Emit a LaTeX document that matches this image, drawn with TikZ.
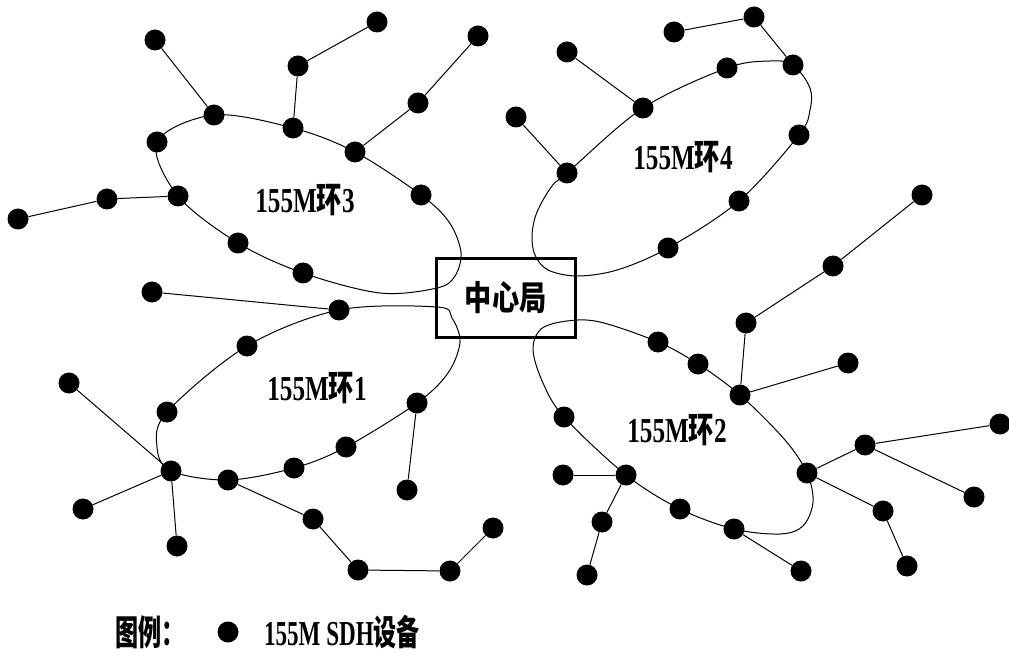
\documentclass[tikz,border=0pt]{standalone}
\usepackage{fontspec}
\usepackage{graphicx}
\setmainfont{Liberation Serif}
\newfontfamily\cjk{Noto Sans CJK SC}
\usetikzlibrary{backgrounds}
\newcommand\lbltext[1]{\scalebox{0.72}[1]{\fontsize{35}{35}\selectfont\bfseries #1}}
\newcommand\lgdtext[1]{\scalebox{0.66}[1]{\fontsize{35}{35}\selectfont\bfseries #1}}
\tikzset{
  dev/.style={circle, fill=black, inner sep=0pt, minimum size=21pt},
  link/.style={line width=1pt, black},
  ringline/.style={line width=1pt, black},
  txt/.style={inner sep=0pt},
  centerbox/.style={draw, line width=3pt, minimum width=139.5pt, minimum height=78.5pt, inner sep=0pt}
}
\begin{document}
\begin{tikzpicture}[x=1pt,y=1pt]
\useasboundingbox (0,0) rectangle (1009,-660);

% central office
\node[centerbox] (cen) at (505.75,-297.75) {\scalebox{0.8}[1]{\cjk\fontsize{34}{34}\selectfont\bfseries 中心局}};

% ring 3
\node[dev] (r3a) at (214,-115) {};
\node[dev] (r3b) at (157,-142) {};
\node[dev] (r3c) at (178,-196) {};
\node[dev] (r3d) at (238,-243) {};
\node[dev] (r3e) at (303,-273) {};
\node[dev] (r3f) at (293,-128) {};
\node[dev] (r3g) at (355,-152) {};
\node[dev] (r3h) at (421,-195) {};
\node[dev] (r3a1) at (155,-40) {};
\node[dev] (r3f1) at (298,-66) {};
\node[dev] (r3f2) at (377,-22) {};
\node[dev] (r3g1) at (418,-103) {};
\node[dev] (r3g2) at (478,-36) {};
\node[dev] (r3c1) at (107,-199) {};
\node[dev] (r3c2) at (18,-219) {};

% ring 1
\node[dev] (r1a) at (339,-310) {};
\node[dev] (r1b) at (247,-346) {};
\node[dev] (r1c) at (167,-412) {};
\node[dev] (r1d) at (171,-471) {};
\node[dev] (r1e) at (228,-480) {};
\node[dev] (r1f) at (294,-468) {};
\node[dev] (r1g) at (346,-447) {};
\node[dev] (r1h) at (417,-403) {};
\node[dev] (r1a1) at (152,-292) {};
\node[dev] (r1d1) at (69,-383) {};
\node[dev] (r1d2) at (83,-509) {};
\node[dev] (r1d3) at (177,-546) {};
\node[dev] (r1e1) at (313,-519) {};
\node[dev] (r1e2) at (358,-570) {};
\node[dev] (r1e3) at (450,-571) {};
\node[dev] (r1e4) at (493,-528) {};
\node[dev] (r1h1) at (407,-490) {};

% ring 2
\node[dev] (r2a) at (658,-342) {};
\node[dev] (r2b) at (698,-364) {};
\node[dev] (r2c) at (740,-395) {};
\node[dev] (r2d) at (807,-473) {};
\node[dev] (r2e) at (734,-529) {};
\node[dev] (r2f) at (680,-509) {};
\node[dev] (r2g) at (626,-475) {};
\node[dev] (r2h) at (564,-417) {};
\node[dev] (r2c1) at (746,-323) {};
\node[dev] (r2c2) at (833,-266) {};
\node[dev] (r2c3) at (922,-195) {};
\node[dev] (r2c4) at (848,-363) {};
\node[dev] (r2d1) at (865,-445) {};
\node[dev] (r2d2) at (1000,-424) {};
\node[dev] (r2d3) at (974,-497) {};
\node[dev] (r2d4) at (883,-511) {};
\node[dev] (r2d5) at (907,-566) {};
\node[dev] (r2e1) at (801,-571) {};
\node[dev] (r2g1) at (563,-475) {};
\node[dev] (r2g2) at (602,-522) {};
\node[dev] (r2g3) at (587,-575) {};

% ring 4
\node[dev] (r4a) at (567,-173) {};
\node[dev] (r4b) at (643,-108) {};
\node[dev] (r4c) at (727,-68) {};
\node[dev] (r4d) at (793,-65) {};
\node[dev] (r4e) at (799,-135) {};
\node[dev] (r4f) at (739,-201) {};
\node[dev] (r4g) at (668,-248) {};
\node[dev] (r4a1) at (516,-117) {};
\node[dev] (r4b1) at (567,-52) {};
\node[dev] (r4d1) at (754,-17) {};
\node[dev] (r4d2) at (674,-32) {};

% labels
\node[txt] (l3) at (305,-200) {\lbltext{155M{\cjk 环}3}};
\node[txt] (l4) at (683,-157) {\lbltext{155M{\cjk 环}4}};
\node[txt] (l1) at (317,-388) {\lbltext{155M{\cjk 环}1}};
\node[txt] (l2) at (677,-430) {\lbltext{155M{\cjk 环}2}};

% legend
\node[txt] (lgt) at (150,-632) {\lgdtext{{\cjk 图例：}}};
\node[dev] (lgd) at (228,-632) {};
\node[txt] (lgs) at (342,-632) {\lgdtext{155M SDH{\cjk 设备}}};

\begin{scope}[on background layer]
\fill[white] (0,0) rectangle (1009,-660);
% rings
\draw[ringline] plot[smooth cycle, tension=0.55] coordinates {
  (r3e.center) (r3d.center) (r3c.center) (r3b.center) (r3a.center) (r3f.center)
  (r3g.center) (r3h.center) (449,-222) (461,-252) (455,-276) (437,-288) (380,-293)};
\draw[ringline] plot[smooth cycle, tension=0.55] coordinates {
  (r1a.center) (r1b.center) (r1c.center) (157,-447) (r1d.center) (r1e.center)
  (r1f.center) (r1g.center) (r1h.center) (448,-373) (460,-342) (452,-318) (437,-307)};
\draw[ringline] plot[smooth cycle, tension=0.55] coordinates {
  (r2a.center) (r2b.center) (r2c.center) (785,-440) (r2d.center) (813,-502)
  (803,-526) (780,-534) (r2e.center) (r2f.center) (r2g.center) (r2h.center)
  (543,-383) (533,-350) (541,-329) (567,-321) (600,-322)};
\draw[ringline] plot[smooth cycle, tension=0.55] coordinates {
  (r4a.center) (r4b.center) (r4c.center) (770,-61) (r4d.center) (810,-88)
  (810,-110) (r4e.center) (r4f.center) (r4g.center) (617,-270) (577,-276)
  (548,-270) (535,-255) (532,-235) (537,-212) (552,-186)};
% branches
\draw[link] (r3a) -- (r3a1);
\draw[link] (r3f) -- (r3f1) -- (r3f2);
\draw[link] (r3g) -- (r3g1) -- (r3g2);
\draw[link] (r3c) -- (r3c1) -- (r3c2);
\draw[link] (r1a) -- (r1a1);
\draw[link] (r1d) -- (r1d1);
\draw[link] (r1d) -- (r1d2);
\draw[link] (r1d) -- (r1d3);
\draw[link] (r1e) -- (r1e1) -- (r1e2) -- (r1e3) -- (r1e4);
\draw[link] (r1h) -- (r1h1);
\draw[link] (r2c) -- (r2c1) -- (r2c2) -- (r2c3);
\draw[link] (r2c) -- (r2c4);
\draw[link] (r2d) -- (r2d1) -- (r2d2);
\draw[link] (r2d1) -- (r2d3);
\draw[link] (r2d) -- (r2d4) -- (r2d5);
\draw[link] (r2e) -- (r2e1);
\draw[link] (r2g) -- (r2g1);
\draw[link] (r2g) -- (r2g2) -- (r2g3);
\draw[link] (r4a) -- (r4a1);
\draw[link] (r4b) -- (r4b1);
\draw[link] (r4d) -- (r4d1) -- (r4d2);
\end{scope}
\end{tikzpicture}
\end{document}
